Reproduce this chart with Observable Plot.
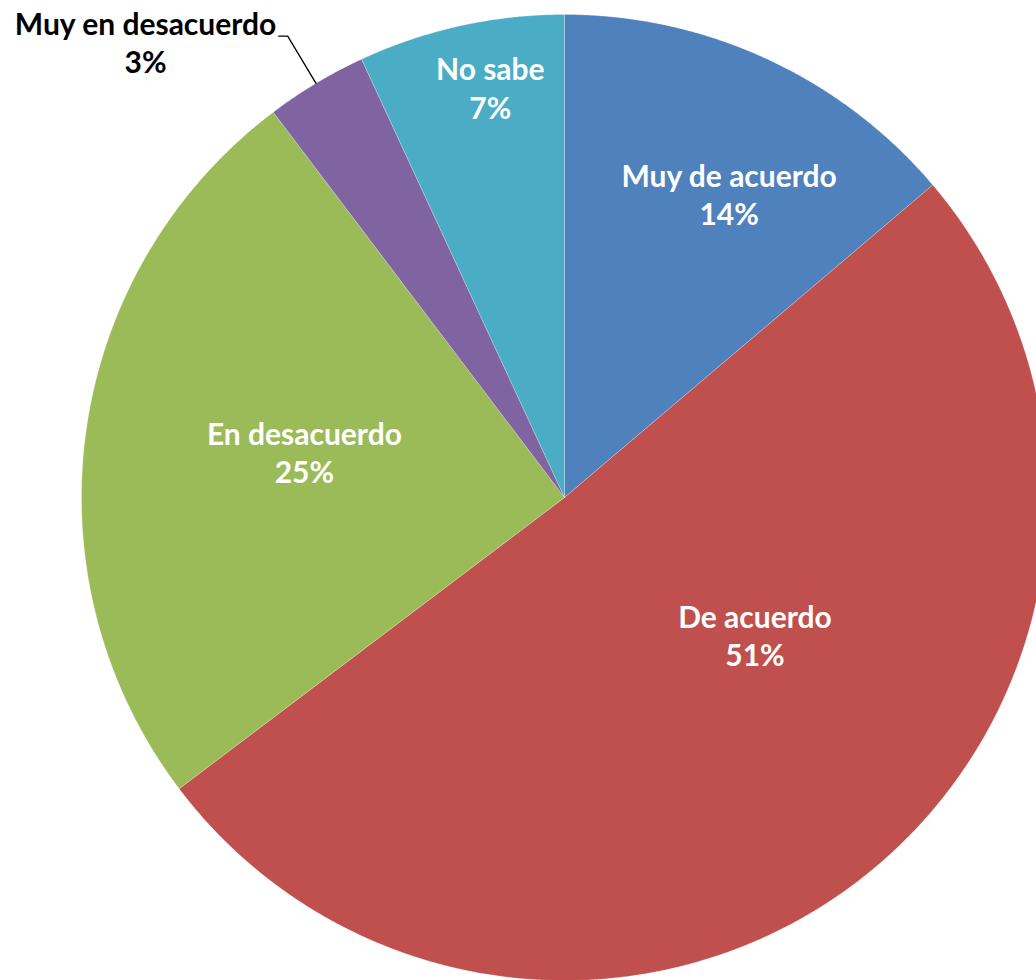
<!DOCTYPE html>
<html><head><meta charset="utf-8">
<script src="https://cdn.jsdelivr.net/npm/d3@7"></script>
<script src="https://cdn.jsdelivr.net/npm/@observablehq/plot@0.6"></script>
<style>html,body{margin:0;padding:0;background:#fff;overflow:hidden}</style>
</head><body><div id="chart"></div>
<script>
// Data
const categories = ["Muy de acuerdo", "De acuerdo", "En desacuerdo", "Muy en desacuerdo", "No sabe"];
const values = [13.8, 50.9, 25.0, 3.4, 6.9];
const colors = ["#4F81BD", "#C0504D", "#9BBB59", "#8064A2", "#4BACC6"];
// Label layout (angle in degrees clockwise from top, radius as fraction of pie radius)
const labelAngle = [28.6, 126.1, 279.5, 317.3, 349.7];
const labelRadius = [0.712, 0.488, 0.546, 1.279, 0.859];
const labelOutside = [false, false, false, true, false];

const W = 1036, H = 980, R = 483, CX = 564, CY = 497;
const total = d3.sum(values);
const rad = d => d * Math.PI / 180;
const polar = (deg, r) => ({x: r * Math.sin(rad(deg)), y: r * Math.cos(rad(deg))});

let cum = 0;
const slices = categories.map((c, i) => {
  const a0 = cum / total * 360; cum += values[i]; const a1 = cum / total * 360;
  return {c, a0, a1, mid: (a0 + a1) / 2, v: values[i], i};
});

const pts = [];
for (const s of slices) {
  pts.push({c: s.c, x: 0, y: 0});
  const n = Math.ceil((s.a1 - s.a0) / 0.2);
  for (let k = 0; k <= n; k++) pts.push({c: s.c, ...polar(s.a0 + (s.a1 - s.a0) * k / n, 1)});
  pts.push({c: s.c, x: 0, y: 0});
}

const labels = slices.map(s => ({
  ...polar(labelAngle[s.i], labelRadius[s.i]),
  text: s.c + "\n" + Math.round(s.v / total * 100) + "%",
  outside: labelOutside[s.i]
}));

const leader = [];
slices.filter(s => labelOutside[s.i]).forEach(s => {
  const p0 = polar(s.mid, 1), p1 = polar(s.mid, 1.114);
  leader.push({c: s.c, ...p0}, {c: s.c, ...p1}, {c: s.c, x: p1.x - 9 / R, y: p1.y});
});

const textOpts = {x: "x", y: "y", text: "text", fontSize: 30, fontWeight: "bold", fontFamily: "Lato", lineHeight: 1.27, dy: -2};

const chart = Plot.plot({
  width: W, height: H, margin: 0,
  x: {domain: [-CX / R, (W - CX) / R], axis: null},
  y: {domain: [-(H - CY) / R, CY / R], axis: null},
  color: {domain: categories, range: colors},
  marks: [
    Plot.line(pts, {x: "x", y: "y", z: "c", fill: "c", stroke: "#fff", strokeWidth: 0.5, strokeOpacity: 0.45}),
    Plot.line(leader, {x: "x", y: "y", z: "c", stroke: "#000", strokeWidth: 1.3}),
    Plot.text(labels.filter(d => !d.outside), {...textOpts, fill: "#fff"}),
    Plot.text(labels.filter(d => d.outside), {...textOpts, fill: "#000"})
  ]
});
document.getElementById("chart").appendChild(chart);
</script>
</body></html>
